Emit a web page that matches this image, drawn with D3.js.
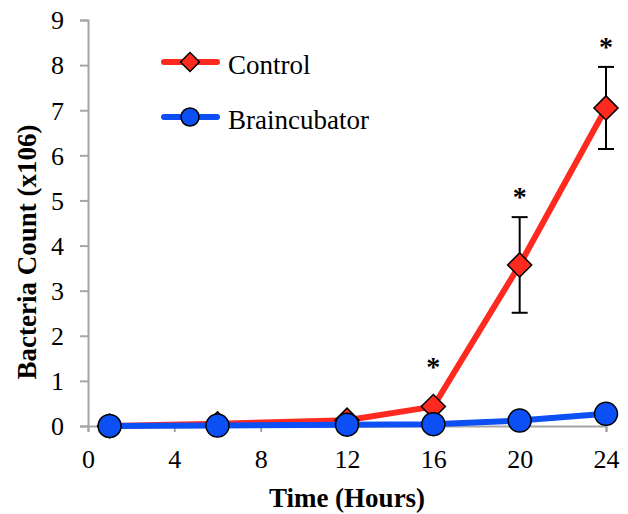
<!DOCTYPE html>
<html>
<head>
<meta charset="utf-8">
<script src="https://cdn.jsdelivr.net/npm/d3@7"></script>
<style>
  body { margin: 0; background: #fff; }
  svg { font-family: "Liberation Serif", "Times New Roman", serif; }
</style>
</head>
<body>
<script>
// chart data
var hours = [1, 6, 12, 16, 20, 24];
var controlValues = [0.0, 0.05, 0.13, 0.43, 3.57, 7.05];
var controlErrors = [0, 0, 0, 0, 1.06, 0.91];
var braincubatorValues = [0.0, 0.01, 0.03, 0.04, 0.12, 0.27];
var starLevels = [null, null, null, 1.4, 5.17, 8.49];
var xTicks = [0, 4, 8, 12, 16, 20, 24];
var yTicks = [0, 1, 2, 3, 4, 5, 6, 7, 8, 9];

var red = "#ff2a1f", blue = "#0c4ff4", axisGray = "#a6a6a6";

var svg = d3.select("body").append("svg")
    .attr("width", 628)
    .attr("height", 514);

var x = d3.scaleLinear().domain([0, 24]).range([88, 606]);
var y = d3.scaleLinear().domain([0, 9]).range([426, 20]);

// axes
var xAxis = svg.append("g")
    .attr("transform", "translate(0," + y(0) + ")")
    .call(d3.axisBottom(x).tickValues(xTicks).tickSize(6).tickPadding(22));
var yAxis = svg.append("g")
    .attr("transform", "translate(" + x(0) + ",0)")
    .call(d3.axisLeft(y).tickValues(yTicks).tickSize(8).tickPadding(16));

[xAxis, yAxis].forEach(function(a) {
  a.select(".domain").attr("stroke", axisGray).attr("stroke-width", 2);
  a.selectAll(".tick line").attr("stroke", axisGray).attr("stroke-width", 2);
  a.selectAll(".tick text")
    .attr("fill", "#000")
    .style("font-family", "'Liberation Serif', serif")
    .style("font-size", "26px");
});
xAxis.selectAll(".tick text").attr("dy", "0.55em");
yAxis.selectAll(".tick text").attr("dy", "0.34em");

// axis titles
svg.append("text")
    .attr("x", 347).attr("y", 507)
    .attr("text-anchor", "middle")
    .style("font-size", "27px").style("font-weight", "bold")
    .text("Time (Hours)");
svg.append("text")
    .attr("transform", "translate(36,252) rotate(-90)")
    .attr("text-anchor", "middle")
    .style("font-size", "27px").style("font-weight", "bold")
    .text("Bacteria Count (x106)");

var control = hours.map(function(h, i) {
  return {h: h, v: controlValues[i], e: controlErrors[i], s: starLevels[i]};
});
var brain = hours.map(function(h, i) {
  return {h: h, v: braincubatorValues[i]};
});

var line = d3.line()
    .x(function(d) { return x(d.h); })
    .y(function(d) { return y(d.v); });

// error bars
var err = svg.append("g").selectAll("g")
    .data(control.filter(function(d) { return d.e > 0; }))
    .enter().append("g")
    .attr("stroke", "#000").attr("stroke-width", 2);
err.append("line")
    .attr("x1", function(d) { return x(d.h); })
    .attr("x2", function(d) { return x(d.h); })
    .attr("y1", function(d) { return y(d.v - d.e); })
    .attr("y2", function(d) { return y(d.v + d.e); });
err.selectAll("line.cap")
    .data(function(d) { return [[d, d.v - d.e], [d, d.v + d.e]]; })
    .enter().append("line")
    .attr("class", "cap")
    .attr("x1", function(p) { return x(p[0].h) - 8; })
    .attr("x2", function(p) { return x(p[0].h) + 8; })
    .attr("y1", function(p) { return y(p[1]); })
    .attr("y2", function(p) { return y(p[1]); });

// asterisks
svg.selectAll("text.star")
    .data(control.filter(function(d) { return d.s != null; }))
    .enter().append("text")
    .attr("class", "star")
    .attr("x", function(d) { return x(d.h); })
    .attr("y", function(d) { return y(d.s) + 13; })
    .attr("text-anchor", "middle")
    .style("font-size", "28px").style("font-weight", "bold")
    .text("*");

var diamond = d3.symbol().type(d3.symbolSquare).size(290);

// control series
svg.append("path")
    .datum(control)
    .attr("d", line)
    .attr("fill", "none")
    .attr("stroke", red)
    .attr("stroke-width", 6);
svg.selectAll("path.dia")
    .data(control)
    .enter().append("path")
    .attr("class", "dia")
    .attr("d", diamond)
    .attr("transform", function(d) { return "translate(" + x(d.h) + "," + y(d.v) + ") rotate(45)"; })
    .attr("fill", red)
    .attr("stroke", "#000")
    .attr("stroke-width", 1.5);

// braincubator series
svg.append("path")
    .datum(brain)
    .attr("d", line)
    .attr("fill", "none")
    .attr("stroke", blue)
    .attr("stroke-width", 6);
svg.selectAll("circle.pt")
    .data(brain)
    .enter().append("circle")
    .attr("class", "pt")
    .attr("cx", function(d) { return x(d.h); })
    .attr("cy", function(d) { return y(d.v); })
    .attr("r", 11.5)
    .attr("fill", blue)
    .attr("stroke", "#000")
    .attr("stroke-width", 1.5);

// legend
var legend = svg.append("g");
var items = [
  {name: "Control", color: red, y: 62, shape: "diamond"},
  {name: "Braincubator", color: blue, y: 117, shape: "circle"}
];
items.forEach(function(it) {
  legend.append("line")
    .attr("x1", 164).attr("x2", 217)
    .attr("y1", it.y).attr("y2", it.y)
    .attr("stroke", it.color).attr("stroke-width", 6)
    .attr("stroke-linecap", "round");
  if (it.shape === "diamond") {
    legend.append("path")
      .attr("d", d3.symbol().type(d3.symbolSquare).size(180))
      .attr("transform", "translate(190," + it.y + ") rotate(45)")
      .attr("fill", it.color).attr("stroke", "#000").attr("stroke-width", 1.5);
  } else {
    legend.append("circle")
      .attr("cx", 190).attr("cy", it.y).attr("r", 9)
      .attr("fill", it.color).attr("stroke", "#000").attr("stroke-width", 1.5);
  }
  legend.append("text")
    .attr("x", 228).attr("y", it.y + 12)
    .style("font-size", "27px")
    .text(it.name);
});
</script>
</body>
</html>
